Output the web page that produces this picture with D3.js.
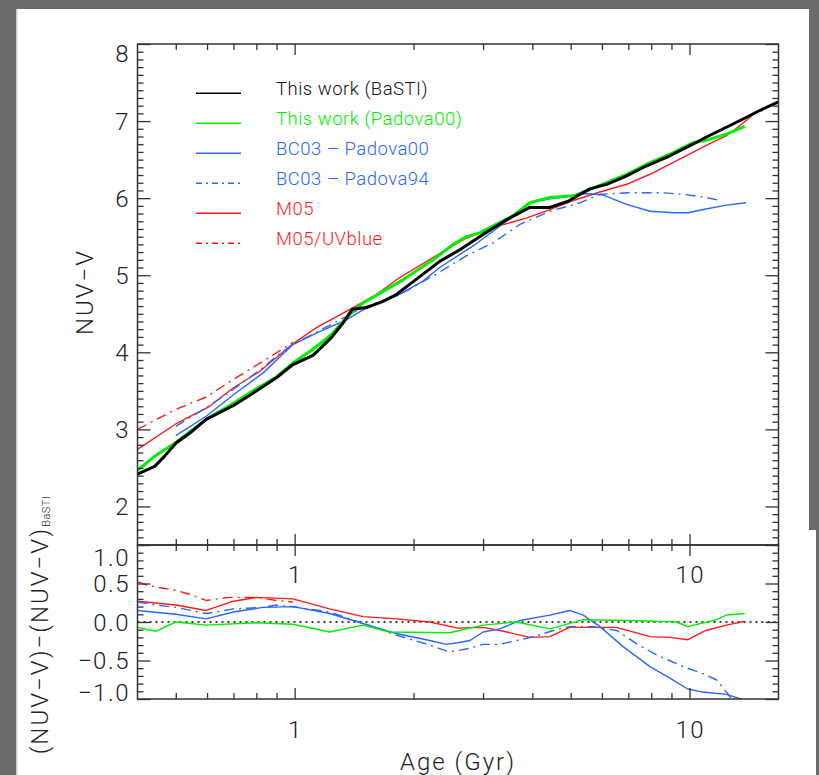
<!DOCTYPE html>
<html><head><meta charset="utf-8">
<script src="https://cdn.jsdelivr.net/npm/d3@7"></script>
<style>html,body{margin:0;padding:0;background:#6b6b6b;overflow:hidden}</style>
</head><body>
<svg id="c" width="819" height="775"></svg>
<script>
// ---------- DATA ----------
// Upper panel: NUV-V vs age (Gyr)
const bastiAge = [0.4, 0.442, 0.468, 0.5, 0.542, 0.597, 0.70, 0.784, 0.899, 0.99, 1.113, 1.239, 1.326, 1.40, 1.519, 1.674, 1.81, 2.0, 2.33, 2.62, 3.0, 3.44, 3.94, 4.43, 4.93, 5.28, 5.59, 6.17, 6.93, 7.79, 8.92, 10.2, 11.0, 12.4, 13.7, 15.1, 16.8];
const bastiVal = [2.42, 2.52, 2.65, 2.82, 2.95, 3.13, 3.31, 3.47, 3.67, 3.84, 3.96, 4.19, 4.38, 4.56, 4.58, 4.66, 4.75, 4.92, 5.18, 5.33, 5.53, 5.72, 5.88, 5.88, 5.96, 6.05, 6.12, 6.18, 6.29, 6.42, 6.55, 6.70, 6.79, 6.92, 7.03, 7.14, 7.25];

const padovaAge = [0.4, 0.442, 0.5, 0.597, 0.70, 0.784, 0.899, 0.99, 1.113, 1.239, 1.352, 1.49, 1.674, 1.88, 2.24, 2.52, 2.72, 2.94, 3.24, 3.57, 3.94, 4.43, 5.08, 5.59, 6.17, 6.93, 7.79, 8.92, 10.2, 11.0, 12.4, 13.8];
const padovaVal = [2.47, 2.65, 2.83, 3.13, 3.34, 3.50, 3.68, 3.86, 4.04, 4.23, 4.45, 4.64, 4.79, 4.94, 5.20, 5.40, 5.50, 5.55, 5.66, 5.77, 5.94, 6.01, 6.03, 6.11, 6.20, 6.31, 6.44, 6.57, 6.72, 6.75, 6.83, 6.93];

const bc00Age = [0.5, 0.597, 0.70, 0.831, 0.99, 1.135, 1.352, 1.49, 1.81, 2.11, 2.33, 2.83, 3.44, 3.94, 4.43, 5.08, 5.49, 6.05, 6.93, 7.94, 9.1, 9.9, 11.0, 12.4, 13.9];
const bc00Val = [2.92, 3.17, 3.45, 3.73, 4.10, 4.25, 4.42, 4.55, 4.73, 4.92, 5.10, 5.38, 5.70, 5.94, 5.99, 6.03, 6.06, 6.04, 5.92, 5.83, 5.81, 5.81, 5.86, 5.91, 5.94];

const bc94Age = [0.5, 0.597, 0.70, 0.831, 0.899, 0.99, 1.49, 1.845, 2.24, 2.72, 3.18, 3.72, 4.43, 5.28, 5.93, 7.0, 8.5, 9.65, 11.0, 11.95];
const bc94Val = [3.04, 3.28, 3.52, 3.80, 3.95, 4.10, 4.58, 4.75, 4.99, 5.25, 5.42, 5.66, 5.83, 5.94, 6.05, 6.07, 6.07, 6.05, 6.01, 5.97];

const m05Age = [0.4, 0.5, 0.609, 0.70, 0.815, 0.99, 1.135, 1.352, 1.61, 1.845, 2.24, 2.72, 3.18, 3.86, 4.43, 5.08, 5.93, 6.93, 7.94, 8.92, 10.0, 11.0, 12.4, 13.4, 14.8];
const m05Val = [2.74, 3.07, 3.30, 3.54, 3.75, 4.11, 4.32, 4.53, 4.75, 4.97, 5.23, 5.48, 5.62, 5.74, 5.85, 5.97, 6.08, 6.18, 6.31, 6.44, 6.57, 6.68, 6.81, 6.94, 7.12];

const m05uvAge = [0.4, 0.5, 0.597, 0.70, 0.848, 0.99];
const m05uvVal = [3.00, 3.26, 3.42, 3.65, 3.91, 4.13];

// Lower panel: (NUV-V) - (NUV-V)_BaSTI
const dPadovaAge = [0.4, 0.446, 0.5, 0.597, 0.8, 0.99, 1.226, 1.49, 1.74, 2.47, 3.0, 3.65, 4.43, 5.38, 7.07, 9.27, 9.9, 11.7, 12.4, 13.8];
const dPadovaVal = [-0.07, -0.12, 0.0, -0.04, -0.01, -0.03, -0.13, -0.04, -0.13, -0.14, -0.04, 0.0, -0.09, 0.03, 0.02, 0.0, -0.06, 0.03, 0.09, 0.11];

const dBc00Age = [0.4, 0.5, 0.597, 0.70, 0.831, 0.99, 1.226, 1.49, 1.81, 2.2, 2.42, 2.59, 2.78, 3.0, 3.31, 3.72, 4.43, 4.97, 5.38, 5.93, 6.79, 7.94, 8.92, 9.9, 10.8, 12.4, 13.9];
const dBc00Val = [0.15, 0.10, 0.04, 0.13, 0.19, 0.20, 0.11, -0.02, -0.15, -0.24, -0.29, -0.27, -0.24, -0.13, -0.09, 0.02, 0.09, 0.15, 0.09, -0.06, -0.32, -0.58, -0.73, -0.87, -0.91, -0.94, -1.02];

const dBc94Age = [0.4, 0.446, 0.5, 0.597, 0.70, 0.831, 0.899, 0.99, 1.226, 1.49, 1.81, 2.2, 2.47, 2.59, 2.78, 3.0, 3.31, 3.65, 4.03, 4.52, 4.97, 5.7, 6.53, 7.34, 8.26, 9.65, 10.8, 11.7, 12.4, 12.8];
const dBc94Val = [0.26, 0.22, 0.19, 0.11, 0.17, 0.19, 0.22, 0.20, 0.13, -0.02, -0.17, -0.30, -0.39, -0.37, -0.34, -0.29, -0.29, -0.24, -0.19, -0.11, -0.06, -0.06, -0.11, -0.28, -0.43, -0.58, -0.67, -0.75, -0.91, -1.0];

const dM05Age = [0.4, 0.5, 0.597, 0.70, 0.8, 0.99, 1.226, 1.49, 1.81, 2.2, 2.59, 3.0, 3.31, 3.94, 4.43, 4.97, 6.53, 7.94, 8.92, 9.9, 11.0, 12.4, 13.8];
const dM05Val = [0.27, 0.22, 0.15, 0.27, 0.32, 0.30, 0.17, 0.07, 0.04, 0.0, -0.08, -0.07, -0.11, -0.20, -0.19, -0.07, -0.07, -0.19, -0.20, -0.23, -0.11, -0.04, 0.01];

const dM05uvAge = [0.4, 0.429, 0.5, 0.542, 0.597, 0.684, 0.8, 0.899, 0.99];
const dM05uvVal = [0.52, 0.47, 0.41, 0.36, 0.28, 0.32, 0.32, 0.28, 0.26];

// Axes / ticks / legend text
const xDomain = [0.4, 16.8];
const yTopDomain = [1.5, 8];
const yLowDomain = [-1, 1];
const xMajorTicks = [1, 10];
const xTickLabels = ["1", "10"];
const yTopMajor = [2, 3, 4, 5, 6, 7, 8];
const yTopLabels = ["2", "3", "4", "5", "6", "7", "8"];
const yLowMajor = [-1, -0.5, 0, 0.5, 1];
const yLowLabels = ["\u22121.0", "\u22120.5", "0.0", "0.5", "1.0"];
const legendLabels = ["This work (BaSTI)", "This work (Padova00)", "BC03 \u2013 Padova00", "BC03 \u2013 Padova94", "M05", "M05/UVblue"];

// ---------- STYLES ----------
const BLUE = "#2a66ff", RED = "#ff1a1a", GREEN = "#00ee00";
const DD = "10,5,2,5";
const styles = [
  {color: "#000", w: 3, dash: null},
  {color: GREEN, w: 3, dash: null},
  {color: BLUE, w: 1.4, dash: null},
  {color: BLUE, w: 1.4, dash: DD},
  {color: RED, w: 1.4, dash: null},
  {color: RED, w: 1.4, dash: DD}
];
const topSeries = [[bastiAge, bastiVal], [padovaAge, padovaVal], [bc00Age, bc00Val], [bc94Age, bc94Val], [m05Age, m05Val], [m05uvAge, m05uvVal]];
const lowSeries = [null, [dPadovaAge, dPadovaVal], [dBc00Age, dBc00Val], [dBc94Age, dBc94Val], [dM05Age, dM05Val], [dM05uvAge, dM05uvVal]];

// ---------- LAYOUT ----------
const L = 137.5, R = 778.5, T = 44, M = 545, B = 699;
const FONT = "Roboto, 'Liberation Sans', Arial, sans-serif";
const FW = 300;
const AX = "#333";

const svg = d3.select("#c");
svg.append("rect").attr("width", 819).attr("height", 775).attr("fill", "#6b6b6b");
svg.append("rect").attr("x", 16).attr("y", 9).attr("width", 793).attr("height", 766).attr("fill", "#fff");
svg.append("rect").attr("x", 809).attr("y", 530).attr("width", 7).attr("height", 245).attr("fill", "#fff");
svg.append("rect").attr("x", 16).attr("y", 9).attr("width", 1.5).attr("height", 766).attr("fill", "#cfcfcf");

const x = d3.scaleLog().domain(xDomain).range([L, R]);
const yTop = d3.scaleLinear().domain(yTopDomain).range([M, T]);
const yLow = d3.scaleLinear().domain(yLowDomain).range([B, M]);

const defs = svg.append("defs");
defs.append("clipPath").attr("id", "clipTop").append("rect").attr("x", L).attr("y", T).attr("width", R - L).attr("height", M - T);
defs.append("clipPath").attr("id", "clipLow").append("rect").attr("x", L).attr("y", M).attr("width", R - L).attr("height", B - M);

// zero line in lower panel
svg.append("line").attr("x1", L).attr("x2", R).attr("y1", yLow(0)).attr("y2", yLow(0))
  .attr("stroke", "#000").attr("stroke-width", 1.6).attr("stroke-dasharray", "2,4");

function drawSeries(g, ages, vals, yS, st, w) {
  const pts = ages.map((a, i) => [a, vals[i]]);
  const line = d3.line().x(d => x(d[0])).y(d => yS(d[1]));
  g.append("path").attr("d", line(pts)).attr("fill", "none")
    .attr("stroke", st.color).attr("stroke-width", w)
    .attr("stroke-linejoin", "round")
    .attr("stroke-dasharray", st.dash);
}
const gTop = svg.append("g").attr("clip-path", "url(#clipTop)");
const gLow = svg.append("g").attr("clip-path", "url(#clipLow)");
const order = [5, 4, 3, 2, 1, 0];
order.forEach(i => {
  drawSeries(gTop, topSeries[i][0], topSeries[i][1], yTop, styles[i], styles[i].w);
  if (lowSeries[i]) drawSeries(gLow, lowSeries[i][0], lowSeries[i][1], yLow, styles[i], 1.4);
});

// ---------- AXES ----------
const xMinor = x.ticks().filter(t => t > xDomain[0] && xMajorTicks.indexOf(t) < 0);
function range01(a, b) { return d3.range(Math.round(a * 10), Math.round(b * 10) + 1).map(v => v / 10); }
const yTopMinor = range01(yTopDomain[0], yTopDomain[1]).filter(v => yTopMajor.indexOf(v) < 0);
const yLowMinor = range01(yLowDomain[0], yLowDomain[1]).filter(v => yLowMajor.map(m => Math.round(m * 10)).indexOf(Math.round(v * 10)) < 0);

function tickAxis(gen, scale, vals, size, tx, ty) {
  const a = gen(scale).tickValues(vals).tickSize(-size).tickSizeOuter(0).tickFormat("");
  const g = svg.append("g").attr("transform", `translate(${tx},${ty})`).call(a);
  g.select(".domain").remove();
  g.selectAll("line").attr("stroke", AX).attr("stroke-width", 1.3);
}
// upper panel
tickAxis(d3.axisTop, x, xMinor, 6, 0, T);
tickAxis(d3.axisTop, x, xMajorTicks, 11, 0, T);
tickAxis(d3.axisBottom, x, xMinor, 6, 0, M);
tickAxis(d3.axisBottom, x, xMajorTicks, 11, 0, M);
tickAxis(d3.axisLeft, yTop, yTopMinor, 6, L, 0);
tickAxis(d3.axisLeft, yTop, yTopMajor, 13, L, 0);
tickAxis(d3.axisRight, yTop, yTopMinor, 6, R, 0);
tickAxis(d3.axisRight, yTop, yTopMajor, 13, R, 0);
// lower panel
tickAxis(d3.axisTop, x, xMinor, 6, 0, M);
tickAxis(d3.axisTop, x, xMajorTicks, 11, 0, M);
tickAxis(d3.axisBottom, x, xMinor, 6, 0, B);
tickAxis(d3.axisBottom, x, xMajorTicks, 11, 0, B);
tickAxis(d3.axisLeft, yLow, yLowMinor, 6, L, 0);
tickAxis(d3.axisLeft, yLow, yLowMajor, 13, L, 0);
tickAxis(d3.axisRight, yLow, yLowMinor, 6, R, 0);
tickAxis(d3.axisRight, yLow, yLowMajor, 13, R, 0);

// frames
svg.append("rect").attr("x", L).attr("y", T).attr("width", R - L).attr("height", M - T)
  .attr("fill", "none").attr("stroke", AX).attr("stroke-width", 1.5);
svg.append("rect").attr("x", L).attr("y", M).attr("width", R - L).attr("height", B - M)
  .attr("fill", "none").attr("stroke", AX).attr("stroke-width", 1.5);

// tick labels
const TXT = "#222";
function label(tx, ty, s, anchor, size) {
  return svg.append("text").attr("x", tx).attr("y", ty).text(s)
    .attr("font-family", FONT).attr("font-weight", FW).attr("font-size", size || 24).attr("fill", TXT)
    .attr("text-anchor", anchor || "middle").attr("letter-spacing", 1.5);
}
yTopMajor.forEach((v, i) => {
  const cy = Math.max(yTop(v), T + 9);
  label(L - 7.5, cy + 8.6, yTopLabels[i], "end");
});
yLowMajor.forEach((v, i) => {
  const cy = Math.min(Math.max(yLow(v), M + 12), B - 6.5);
  label(L - 7.5, cy + 8.6, yLowLabels[i], "end");
});
xMajorTicks.forEach((v, i) => {
  label(x(v) + 0.75, M + 38, xTickLabels[i], "middle");
  label(x(v) + 0.75, B + 39, xTickLabels[i], "middle");
});

// axis titles
svg.append("text").attr("transform", "translate(93,292) rotate(-90)")
  .attr("text-anchor", "middle").attr("font-family", FONT).attr("font-weight", FW).attr("font-size", 24)
  .attr("letter-spacing", 2).attr("fill", TXT).text("NUV\u2212V");
const yl = svg.append("text").attr("transform", "translate(48,625) rotate(-90)")
  .attr("text-anchor", "middle").attr("font-family", FONT).attr("font-weight", FW).attr("font-size", 24)
  .attr("letter-spacing", 2).attr("fill", TXT);
yl.append("tspan").text("(NUV\u2212V)\u2212(NUV\u2212V)");
yl.append("tspan").attr("font-size", 11).attr("dy", 2).attr("letter-spacing", 0.5).text("BaSTI");
svg.append("text").attr("x", 458).attr("y", 770).attr("text-anchor", "middle")
  .attr("font-family", FONT).attr("font-weight", FW).attr("font-size", 24).attr("letter-spacing", 2)
  .attr("fill", TXT).text("Age (Gyr)");

// legend
const legY0 = 93.3, legDy = 30;
legendLabels.forEach((s, i) => {
  const yy = legY0 + i * legDy;
  svg.append("line").attr("x1", 196).attr("x2", 241).attr("y1", yy).attr("y2", yy)
    .attr("stroke", styles[i].color).attr("stroke-width", 1.6)
    .attr("stroke-dasharray", styles[i].dash ? "6,4,2,4" : null);
  svg.append("text").attr("x", 276).attr("y", yy + 2).text(s)
    .attr("font-family", FONT).attr("font-weight", FW).attr("font-size", 18.5).attr("letter-spacing", 0.5)
    .attr("fill", i === 0 ? "#111" : styles[i].color);
});
</script>
</body></html>
